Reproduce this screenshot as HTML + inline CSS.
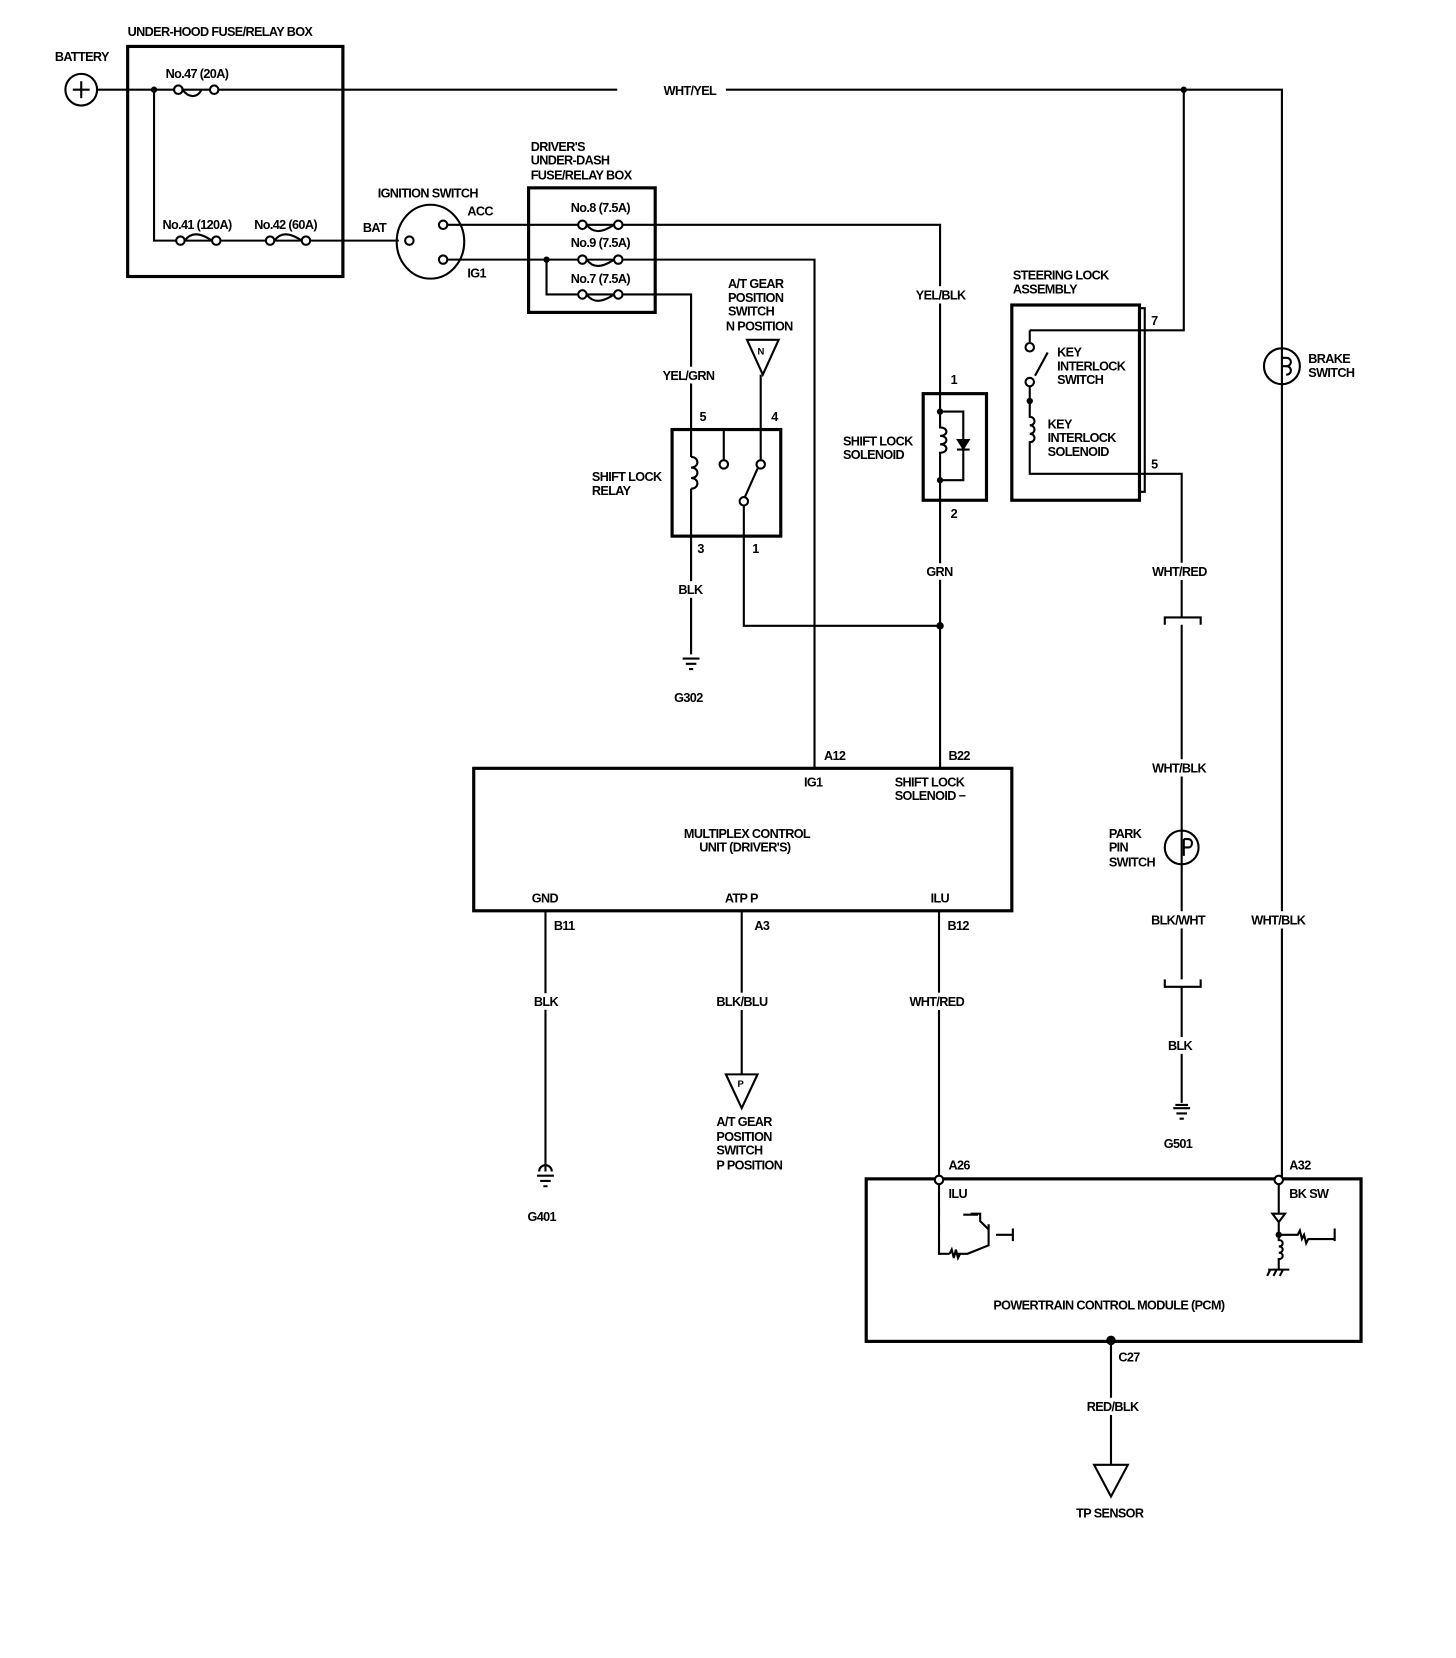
<!DOCTYPE html>
<html><head><meta charset="utf-8"><style>
html,body{margin:0;padding:0;background:#fff;}
svg{display:block;}
text{font-family:"Liberation Sans",sans-serif;font-size:12px;font-weight:bold;fill:#000;letter-spacing:-0.6px;}
.h{paint-order:stroke;stroke:#fff;stroke-width:7px;}
</style></head><body>
<svg width="1456" height="1658" viewBox="0 0 1380 1571" preserveAspectRatio="none" xmlns="http://www.w3.org/2000/svg">
<g fill="none" stroke="#000" stroke-width="2">
<circle cx="77" cy="85" r="15"/><path d="M69 85h16M77 77v16"/>
<path d="M92 85H1215V1118"/>
<rect x="121" y="44" width="204" height="218" stroke-width="3"/>
<path d="M146 85V228H378"/>
<ellipse cx="408" cy="229" rx="32" ry="35"/>
<circle cx="388" cy="228" r="4" fill="#fff"/>
<circle cx="420" cy="213" r="4" fill="#fff"/>
<circle cx="420" cy="246" r="4" fill="#fff"/>
<path d="M424 213H891V373M424 246H772V728M518 246V279H655V407"/>
<rect x="501" y="178" width="120" height="118" stroke-width="3"/>
<path d="M708 322H738L723 355Z"/><path d="M721 355V407"/>
<rect x="637" y="407" width="103" height="101" stroke-width="3"/>
<path d="M655 407V433"/><path d="M655 433c8 0 8 10 0 10c8 0 8 10 0 10c8 0 8 10 0 10"/><path d="M655 463V508"/>
<path d="M686 407V436"/><circle cx="686" cy="440" r="4" fill="#fff"/>
<path d="M721 407V436"/><circle cx="721" cy="440" r="4" fill="#fff"/>
<path d="M718 444L706 471"/><circle cx="705" cy="475" r="4" fill="#fff"/><path d="M705 479V508"/>
<path d="M655 508V620M705 508V593H891"/>
<path d="M647 624h16M650 629h10M653 634h4"/>
<rect x="875" y="373" width="60" height="101" stroke-width="3"/>
<path d="M891 373V390M891 390H913V455H891M891 390V405c8 0 8 8 0 8c8 0 8 8 0 8c8 0 8 8 0 8V474M913 414v14M907 426h12"/>
<path d="M908 417h10l-5 8z" fill="#000"/>
<path d="M891 474V728"/>
<rect x="959" y="289" width="121" height="185" stroke-width="3"/>
<path d="M1080 292h5V466h-5"/>
<path d="M976 313H1122V85M976 313V324"/><circle cx="976" cy="329" r="4" fill="#fff"/>
<path d="M993 334L981 356"/><circle cx="976" cy="362" r="4" fill="#fff"/>
<path d="M976 366V395c6 0 6 8 0 8c6 0 6 8 0 8c6 0 6 8 0 8V449H1120V585"/>
<path d="M1104 592V585H1138V592M1120 592V928M1104 928V935H1138V928M1120 935V1045"/>
<circle cx="1120" cy="803" r="16"/><path d="M1122 795v16M1122 795h4c5 0 5 8 0 8h-4"/>
<path d="M1112 1050h16M1115 1055h10M1118 1060h4M1114 1047h12"/>
<circle cx="1215" cy="347" r="17" fill="#fff"/><path d="M1215 330V364M1215 339h4c6 0 6 8 0 8M1215 347h4c6 0 6 8 0 8"/>
<rect x="449" y="728" width="510" height="135" stroke-width="3"/>
<path d="M517 863V1110M703 863V1018M890 863V1118"/>
<path d="M509 1114h16M512 1119h10M515 1124h4"/><path d="M511 1110a6 6 0 0 1 12 0"/>
<path d="M688 1018H718L703 1050Z"/>
<rect x="821" y="1117" width="469" height="154" stroke-width="3"/>
<path d="M890 1122V1188H900M905 1188h12l20-8V1165M937 1165l-8-8V1150h-9M927 1151h-14M937 1180l0-20M944 1170h16M960 1164v12"/>
<path d="M900 1188l2-4 2 8 2-8 2 8 2-4"/>
<path d="M1212 1122V1150M1206 1150h12l-6 8zM1212 1158V1170H1230l2-4 2 8 2-4 2 8 2-4H1265M1265 1164v12M1212 1170V1175c5 0 5 6 0 6c5 0 5 6 0 6c5 0 5 6 0 6V1203M1202 1203h20M1204 1203l-3 6M1210 1203l-3 6M1216 1203l-3 6"/>
<path d="M1053 1271V1388M1037 1388H1069L1053 1418Z"/>
</g>
<rect x="585" y="80" width="103" height="10" fill="#fff"/>
<g fill="#fff" stroke="#000" stroke-width="2">
<path d="M165 85c0-5 8-5 8 0c6 8 14 8 18 0" fill="none"/><circle cx="169" cy="85" r="4"/><circle cx="203" cy="85" r="4"/>
<circle cx="171" cy="228" r="4"/><circle cx="205" cy="228" r="4"/><path d="M175 228c6-8 14-8 26 0" fill="none"/>
<circle cx="256" cy="228" r="4"/><circle cx="290" cy="228" r="4"/><path d="M260 228c6-8 14-8 26 0" fill="none"/>
<circle cx="552" cy="213" r="4"/><circle cx="586" cy="213" r="4"/><path d="M556 213c6 8 14 8 26 0" fill="none"/>
<circle cx="552" cy="246" r="4"/><circle cx="586" cy="246" r="4"/><path d="M556 246c6 8 14 8 26 0" fill="none"/>
<circle cx="552" cy="279" r="4"/><circle cx="586" cy="279" r="4"/><path d="M556 279c6 8 14 8 26 0" fill="none"/>
<circle cx="890" cy="1118" r="4"/><circle cx="1212" cy="1118" r="4"/>
</g>
<g fill="#000">
<circle cx="146" cy="85" r="3"/><circle cx="518" cy="246" r="3"/><circle cx="891" cy="593" r="3.5"/>
<circle cx="1122" cy="85" r="3"/><circle cx="891" cy="390" r="3"/><circle cx="891" cy="455" r="3"/>
<circle cx="976" cy="380" r="3"/><circle cx="1053" cy="1270" r="4.5"/><circle cx="1212" cy="1170" r="3"/>
</g>
<text x="121" y="34">UNDER-HOOD FUSE/RELAY BOX</text>
<text x="52" y="58">BATTERY</text>
<text x="157" y="74">No.47 (20A)</text>
<text x="154" y="217">No.41 (120A)</text>
<text x="241" y="217">No.42 (60A)</text>
<text x="344" y="220">BAT</text>
<text x="358" y="187">IGNITION SWITCH</text>
<text x="443" y="204">ACC</text>
<text x="443" y="263">IG1</text>
<text x="503" y="143">DRIVER'S</text><text x="503" y="156">UNDER-DASH</text><text x="503" y="170">FUSE/RELAY BOX</text>
<text x="541" y="201">No.8 (7.5A)</text><text x="541" y="234">No.9 (7.5A)</text><text x="541" y="268">No.7 (7.5A)</text>
<text x="629" y="90">WHT/YEL</text>
<text x="690" y="273">A/T GEAR</text><text x="690" y="286">POSITION</text><text x="690" y="299">SWITCH</text><text x="688" y="313">N POSITION</text>
<text x="718" y="336" style="font-size:9px">N</text>
<text class="h" x="628" y="360">YEL/GRN</text>
<text class="h" x="868" y="284">YEL/BLK</text>
<text x="663" y="399">5</text><text x="731" y="399">4</text><text x="661" y="524">3</text><text x="713" y="524">1</text>
<text x="561" y="456">SHIFT LOCK</text><text x="561" y="469">RELAY</text>
<text class="h" x="643" y="563">BLK</text>
<text x="639" y="665">G302</text>
<text x="901" y="364">1</text><text x="901" y="491">2</text>
<text x="799" y="422">SHIFT LOCK</text><text x="799" y="435">SOLENOID</text>
<text class="h" x="878" y="546">GRN</text>
<text x="960" y="265">STEERING LOCK</text><text x="960" y="278">ASSEMBLY</text>
<text x="1091" y="308">7</text><text x="1091" y="444">5</text>
<text x="1002" y="338">KEY</text><text x="1002" y="351">INTERLOCK</text><text x="1002" y="364">SWITCH</text>
<text x="993" y="406">KEY</text><text x="993" y="419">INTERLOCK</text><text x="993" y="432">SOLENOID</text>
<text class="h" x="1092" y="546">WHT/RED</text>
<text class="h" x="1092" y="732">WHT/BLK</text>
<text x="1051" y="794">PARK</text><text x="1051" y="807">PIN</text><text x="1051" y="821">SWITCH</text>
<text class="h" x="1091" y="876">BLK/WHT</text>
<text class="h" x="1107" y="995">BLK</text>
<text x="1103" y="1088">G501</text>
<text x="1240" y="344">BRAKE</text><text x="1240" y="357">SWITCH</text>
<text class="h" x="1186" y="876">WHT/BLK</text>
<text x="781" y="720">A12</text><text x="899" y="720">B22</text>
<text x="762" y="745">IG1</text>
<text x="848" y="745">SHIFT LOCK</text><text x="848" y="758">SOLENOID −</text>
<text x="708" y="794" text-anchor="middle">MULTIPLEX CONTROL</text><text x="706" y="807" text-anchor="middle">UNIT (DRIVER'S)</text>
<text x="504" y="855">GND</text><text x="687" y="855">ATP P</text><text x="882" y="855">ILU</text>
<text x="525" y="881">B11</text><text x="715" y="881">A3</text><text x="898" y="881">B12</text>
<text class="h" x="506" y="953">BLK</text>
<text class="h" x="679" y="953">BLK/BLU</text>
<text class="h" x="862" y="953">WHT/RED</text>
<text x="699" y="1030" style="font-size:9px">P</text>
<text x="679" y="1067">A/T GEAR</text><text x="679" y="1081">POSITION</text><text x="679" y="1094">SWITCH</text><text x="679" y="1108">P POSITION</text>
<text x="500" y="1157">G401</text>
<text x="899" y="1108">A26</text><text x="1222" y="1108">A32</text>
<text x="899" y="1135">ILU</text><text x="1222" y="1135">BK SW</text>
<text x="1051" y="1241" text-anchor="middle">POWERTRAIN CONTROL MODULE (PCM)</text>
<text x="1060" y="1290">C27</text>
<text class="h" x="1030" y="1337">RED/BLK</text>
<text x="1020" y="1438">TP SENSOR</text>
</svg>
</body></html>
